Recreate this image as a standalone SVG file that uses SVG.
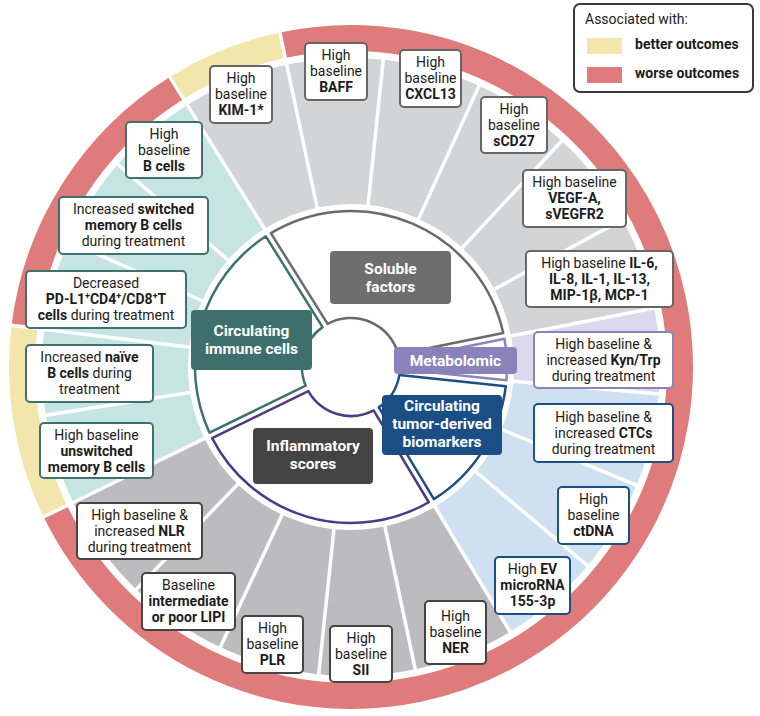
<svg xmlns="http://www.w3.org/2000/svg" width="760" height="716" viewBox="0 0 760 716">
<style>
.t{font-family:Roboto,"Liberation Sans",sans-serif;font-size:14px;fill:#1c1c1c;text-anchor:middle}
.b{font-weight:700}
.cat{font-family:Roboto,"Liberation Sans",sans-serif;font-size:15.5px;font-weight:700;fill:#fff;text-anchor:middle}
.box{fill:#fff;stroke-width:2}
.imm{stroke:#3f716f}.sol{stroke:#666}.met{stroke:#8b83bd}.tum{stroke:#1d4f87}.inf{stroke:#444}
.seg{fill:none;stroke-width:146}
.ring{fill:none;stroke-width:26}
.sep line{stroke:#fff;stroke-width:3.5}
.wedge{fill:#fff;stroke-width:2.5;stroke-linejoin:round}
</style>
<rect width="760" height="716" fill="#fff"/>
<g id="segments" transform="translate(351 367)">
<circle class="seg" r="236" pathLength="360" stroke="#c5e4e2" stroke-dasharray="84 1000" transform="rotate(154)"/>
<circle class="seg" r="236" pathLength="360" stroke="#d2d4d6" stroke-dasharray="111 1000" transform="rotate(238)"/>
<circle class="seg" r="236" pathLength="360" stroke="#dcd9ee" stroke-dasharray="16 1000" transform="rotate(-11)"/>
<circle class="seg" r="236" pathLength="360" stroke="#cfe1f0" stroke-dasharray="54 1000" transform="rotate(5)"/>
<circle class="seg" r="236" pathLength="360" stroke="#bcbcbe" stroke-dasharray="95 1000" transform="rotate(59)"/>
</g>
<g id="ring" transform="translate(351 367)">
<circle class="ring" r="329" pathLength="360" stroke="#f2e6ad" stroke-dasharray="20 1000" transform="rotate(238)"/>
<circle class="ring" r="329" pathLength="360" stroke="#e07b7b" stroke-dasharray="256 1000" transform="rotate(258)"/>
<circle class="ring" r="329" pathLength="360" stroke="#f2e6ad" stroke-dasharray="33 1000" transform="rotate(154)"/>
<circle class="ring" r="329" pathLength="360" stroke="#e07b7b" stroke-dasharray="51 1000" transform="rotate(187)"/>
</g>
<g id="connectors" class="sep" transform="translate(351 367)">
<line y1="-160" y2="-312" transform="rotate(244)"/>
<line y1="-160" y2="-312" transform="rotate(261)"/>
<line y1="-160" y2="-312" transform="rotate(277)"/>
<line y1="-160" y2="-312" transform="rotate(294)"/>
<line y1="-160" y2="-312" transform="rotate(311)"/>
<line y1="-160" y2="-312" transform="rotate(328)"/>
<line y1="-160" y2="-312" transform="rotate(348)"/>
<line y1="-160" y2="-312" transform="rotate(6)"/>
<line y1="-160" y2="-312" transform="rotate(24.5)"/>
<line y1="-160" y2="-312" transform="rotate(43)"/>
<line y1="-160" y2="-312" transform="rotate(61.5)"/>
<line y1="-160" y2="-312" transform="rotate(79)"/>
<line y1="-160" y2="-312" transform="rotate(95)"/>
<line y1="-160" y2="-312" transform="rotate(112.5)"/>
<line y1="-160" y2="-312" transform="rotate(130)"/>
<line y1="-160" y2="-312" transform="rotate(149)"/>
<line y1="-160" y2="-312" transform="rotate(168)"/>
<line y1="-160" y2="-312" transform="rotate(186)"/>
<line y1="-160" y2="-312" transform="rotate(205)"/>
<line y1="-160" y2="-312" transform="rotate(224)"/>
<line y1="-312" y2="-346" transform="rotate(244)"/>
<line y1="-312" y2="-346" transform="rotate(277)"/>
<line y1="-312" y2="-346" transform="rotate(328)"/>
<line y1="-312" y2="-346" transform="rotate(348)"/>
</g>
<g id="wedges">
<path class="wedge" stroke="#3e726f" d="M305.72 385.74 L209.51 432.68 A156 156 0 0 1 265.81 236.32 L322.54 327.11 A49 49 0 0 0 305.72 385.74 Z"/>
<path class="wedge" stroke="#6b6b6b" d="M327.63 323.93 L270.89 233.14 A156 156 0 0 1 503.24 332.97 L398.33 354.31 A49 49 0 0 0 327.63 323.93 Z"/>
<path class="wedge" stroke="#8c83bf" d="M399.52 360.19 L504.44 338.84 A156 156 0 0 1 506.43 380.32 L399.95 369.13 A49 49 0 0 0 399.52 360.19 Z"/>
<path class="wedge" stroke="#1d4f87" d="M399.33 375.09 L505.80 386.28 A156 156 0 0 1 433.90 499.15 L378.76 407.38 A49 49 0 0 0 399.33 375.09 Z"/>
<path class="wedge" stroke="#4d3a87" d="M373.62 410.47 L428.77 502.24 A156 156 0 0 1 212.13 438.06 L308.36 391.13 A49 49 0 0 0 373.62 410.47 Z"/>
</g>
<g id="cat-soluble"><rect x="330" y="251" width="121" height="53" rx="4" fill="#6e6e6e"/><text class="cat"><tspan x="390.5" y="274">Soluble</tspan><tspan x="390.5" y="292">factors</tspan></text></g>
<g id="cat-immune"><rect x="191" y="310" width="121" height="60" rx="4" fill="#3d6f6d"/><text class="cat"><tspan x="251.5" y="336">Circulating</tspan><tspan x="251.5" y="354">immune cells</tspan></text></g>
<g id="cat-metabolomic"><rect x="394" y="347" width="123" height="27" rx="4" fill="#8a82ba"/><text class="cat" x="455.5" y="366">Metabolomic</text></g>
<g id="cat-tumor"><rect x="382" y="395" width="120" height="60" rx="4" fill="#1c4e86"/><text class="cat"><tspan x="442" y="411">Circulating</tspan><tspan x="442" y="429">tumor-derived</tspan><tspan x="442" y="447">biomarkers</tspan></text></g>
<g id="cat-inflammatory"><rect x="253" y="428" width="120" height="56" rx="4" fill="#444"/><text class="cat"><tspan x="313" y="451">Inflammatory</tspan><tspan x="313" y="469">scores</tspan></text></g>
<g id="kim1"><rect class="box sol" x="210" y="66" width="62" height="57" rx="4"/><text class="t"><tspan x="241" y="83">High</tspan><tspan x="241" y="99">baseline</tspan><tspan x="241" y="115" class="b">KIM-1*</tspan></text></g>
<g id="baff"><rect class="box sol" x="305" y="43" width="62" height="57" rx="4"/><text class="t"><tspan x="336" y="60">High</tspan><tspan x="336" y="76">baseline</tspan><tspan x="336" y="92" class="b">BAFF</tspan></text></g>
<g id="cxcl13"><rect class="box sol" x="400" y="50" width="61" height="57" rx="4"/><text class="t"><tspan x="430.5" y="67">High</tspan><tspan x="430.5" y="83">baseline</tspan><tspan x="430.5" y="99" class="b">CXCL13</tspan></text></g>
<g id="scd27"><rect class="box sol" x="481" y="97" width="66" height="56" rx="4"/><text class="t"><tspan x="514" y="114">High</tspan><tspan x="514" y="130">baseline</tspan><tspan x="514" y="146" class="b">sCD27</tspan></text></g>
<g id="vegf"><rect class="box sol" x="523" y="170" width="103" height="57" rx="4"/><text class="t"><tspan x="574.5" y="187">High baseline</tspan><tspan x="574.5" y="203" class="b">VEGF-A,</tspan><tspan x="574.5" y="219" class="b">sVEGFR2</tspan></text></g>
<g id="il6"><rect class="box sol" x="526" y="251" width="147" height="56" rx="4"/><text class="t"><tspan x="599.5" y="268">High baseline <tspan class="b">IL-6,</tspan></tspan><tspan x="599.5" y="284" class="b">IL-8, IL-1, IL-13,</tspan><tspan x="599.5" y="300" class="b">MIP-1β, MCP-1</tspan></text></g>
<g id="kyn"><rect class="box met" x="534" y="332" width="139" height="56" rx="4"/><text class="t"><tspan x="603.5" y="349">High baseline &amp;</tspan><tspan x="603.5" y="365">increased <tspan class="b">Kyn/Trp</tspan></tspan><tspan x="603.5" y="381">during treatment</tspan></text></g>
<g id="ctcs"><rect class="box tum" x="534" y="404" width="139" height="58" rx="4"/><text class="t"><tspan x="603.5" y="422">High baseline &amp;</tspan><tspan x="603.5" y="438">increased <tspan class="b">CTCs</tspan></tspan><tspan x="603.5" y="454">during treatment</tspan></text></g>
<g id="ctdna"><rect class="box tum" x="558" y="487" width="71" height="57" rx="4"/><text class="t"><tspan x="593.5" y="504">High</tspan><tspan x="593.5" y="520">baseline</tspan><tspan x="593.5" y="536" class="b">ctDNA</tspan></text></g>
<g id="ev"><rect class="box tum" x="495" y="557" width="75" height="57" rx="4"/><text class="t"><tspan x="532.5" y="574">High <tspan class="b">EV</tspan></tspan><tspan x="532.5" y="590" class="b">microRNA</tspan><tspan x="532.5" y="606" class="b">155-3p</tspan></text></g>
<g id="ner"><rect class="box inf" x="425" y="601" width="61" height="63" rx="4"/><text class="t"><tspan x="455.5" y="621">High</tspan><tspan x="455.5" y="637">baseline</tspan><tspan x="455.5" y="653" class="b">NER</tspan></text></g>
<g id="sii"><rect class="box inf" x="330" y="626" width="62" height="56" rx="4"/><text class="t"><tspan x="361" y="643">High</tspan><tspan x="361" y="659">baseline</tspan><tspan x="361" y="675" class="b">SII</tspan></text></g>
<g id="plr"><rect class="box inf" x="242" y="616" width="61" height="57" rx="4"/><text class="t"><tspan x="272.5" y="633">High</tspan><tspan x="272.5" y="649">baseline</tspan><tspan x="272.5" y="665" class="b">PLR</tspan></text></g>
<g id="lipi"><rect class="box inf" x="142" y="573" width="93" height="57" rx="4"/><text class="t"><tspan x="188.5" y="590">Baseline</tspan><tspan x="188.5" y="606" class="b">intermediate</tspan><tspan x="188.5" y="622" class="b">or poor LIPI</tspan></text></g>
<g id="nlr"><rect class="box inf" x="77" y="503" width="125" height="56" rx="4"/><text class="t"><tspan x="139.5" y="520">High baseline &amp;</tspan><tspan x="139.5" y="536">increased <tspan class="b">NLR</tspan></tspan><tspan x="139.5" y="552">during treatment</tspan></text></g>
<g id="bcells"><rect class="box imm" x="126" y="122" width="76" height="56" rx="4"/><text class="t"><tspan x="164" y="139">High</tspan><tspan x="164" y="155">baseline</tspan><tspan x="164" y="171" class="b">B cells</tspan></text></g>
<g id="switched"><rect class="box imm" x="59" y="197" width="149" height="57" rx="4"/><text class="t"><tspan x="133.5" y="214">Increased <tspan class="b">switched</tspan></tspan><tspan x="133.5" y="230" class="b">memory B cells</tspan><tspan x="133.5" y="246">during treatment</tspan></text></g>
<g id="pdl1"><rect class="box imm" x="26" y="271" width="160" height="57" rx="4"/><text class="t"><tspan x="106" y="288">Decreased</tspan><tspan x="106" y="304" class="b">PD-L1<tspan font-size="9" dy="-5">+</tspan><tspan dy="5">CD4</tspan><tspan font-size="9" dy="-5">+</tspan><tspan dy="5">/CD8</tspan><tspan font-size="9" dy="-5">+</tspan><tspan dy="5">T</tspan></tspan><tspan x="106" y="320"><tspan class="b">cells</tspan> during treatment</tspan></text></g>
<g id="naive"><rect class="box imm" x="26" y="345" width="127" height="57" rx="4"/><text class="t"><tspan x="89.5" y="362">Increased <tspan class="b">naïve</tspan></tspan><tspan x="89.5" y="378"><tspan class="b">B cells</tspan> during</tspan><tspan x="89.5" y="394">treatment</tspan></text></g>
<g id="unswitched"><rect class="box imm" x="40" y="423" width="113" height="55" rx="4"/><text class="t"><tspan x="96.5" y="440">High baseline</tspan><tspan x="96.5" y="456" class="b">unswitched</tspan><tspan x="96.5" y="472" class="b">memory B cells</tspan></text></g>
<g id="legend"><rect x="574" y="4" width="179" height="88" rx="6" fill="#fff" stroke="#3a3a3a" stroke-width="2"/><text class="t" x="585" y="24" style="text-anchor:start">Associated with:</text><rect x="587" y="38" width="35" height="16" fill="#f2e6ad"/><rect x="587" y="67" width="35" height="16" fill="#e07b7b"/><text class="t b" x="635" y="49" style="text-anchor:start">better outcomes</text><text class="t b" x="635" y="78" style="text-anchor:start">worse outcomes</text></g>
</svg>
